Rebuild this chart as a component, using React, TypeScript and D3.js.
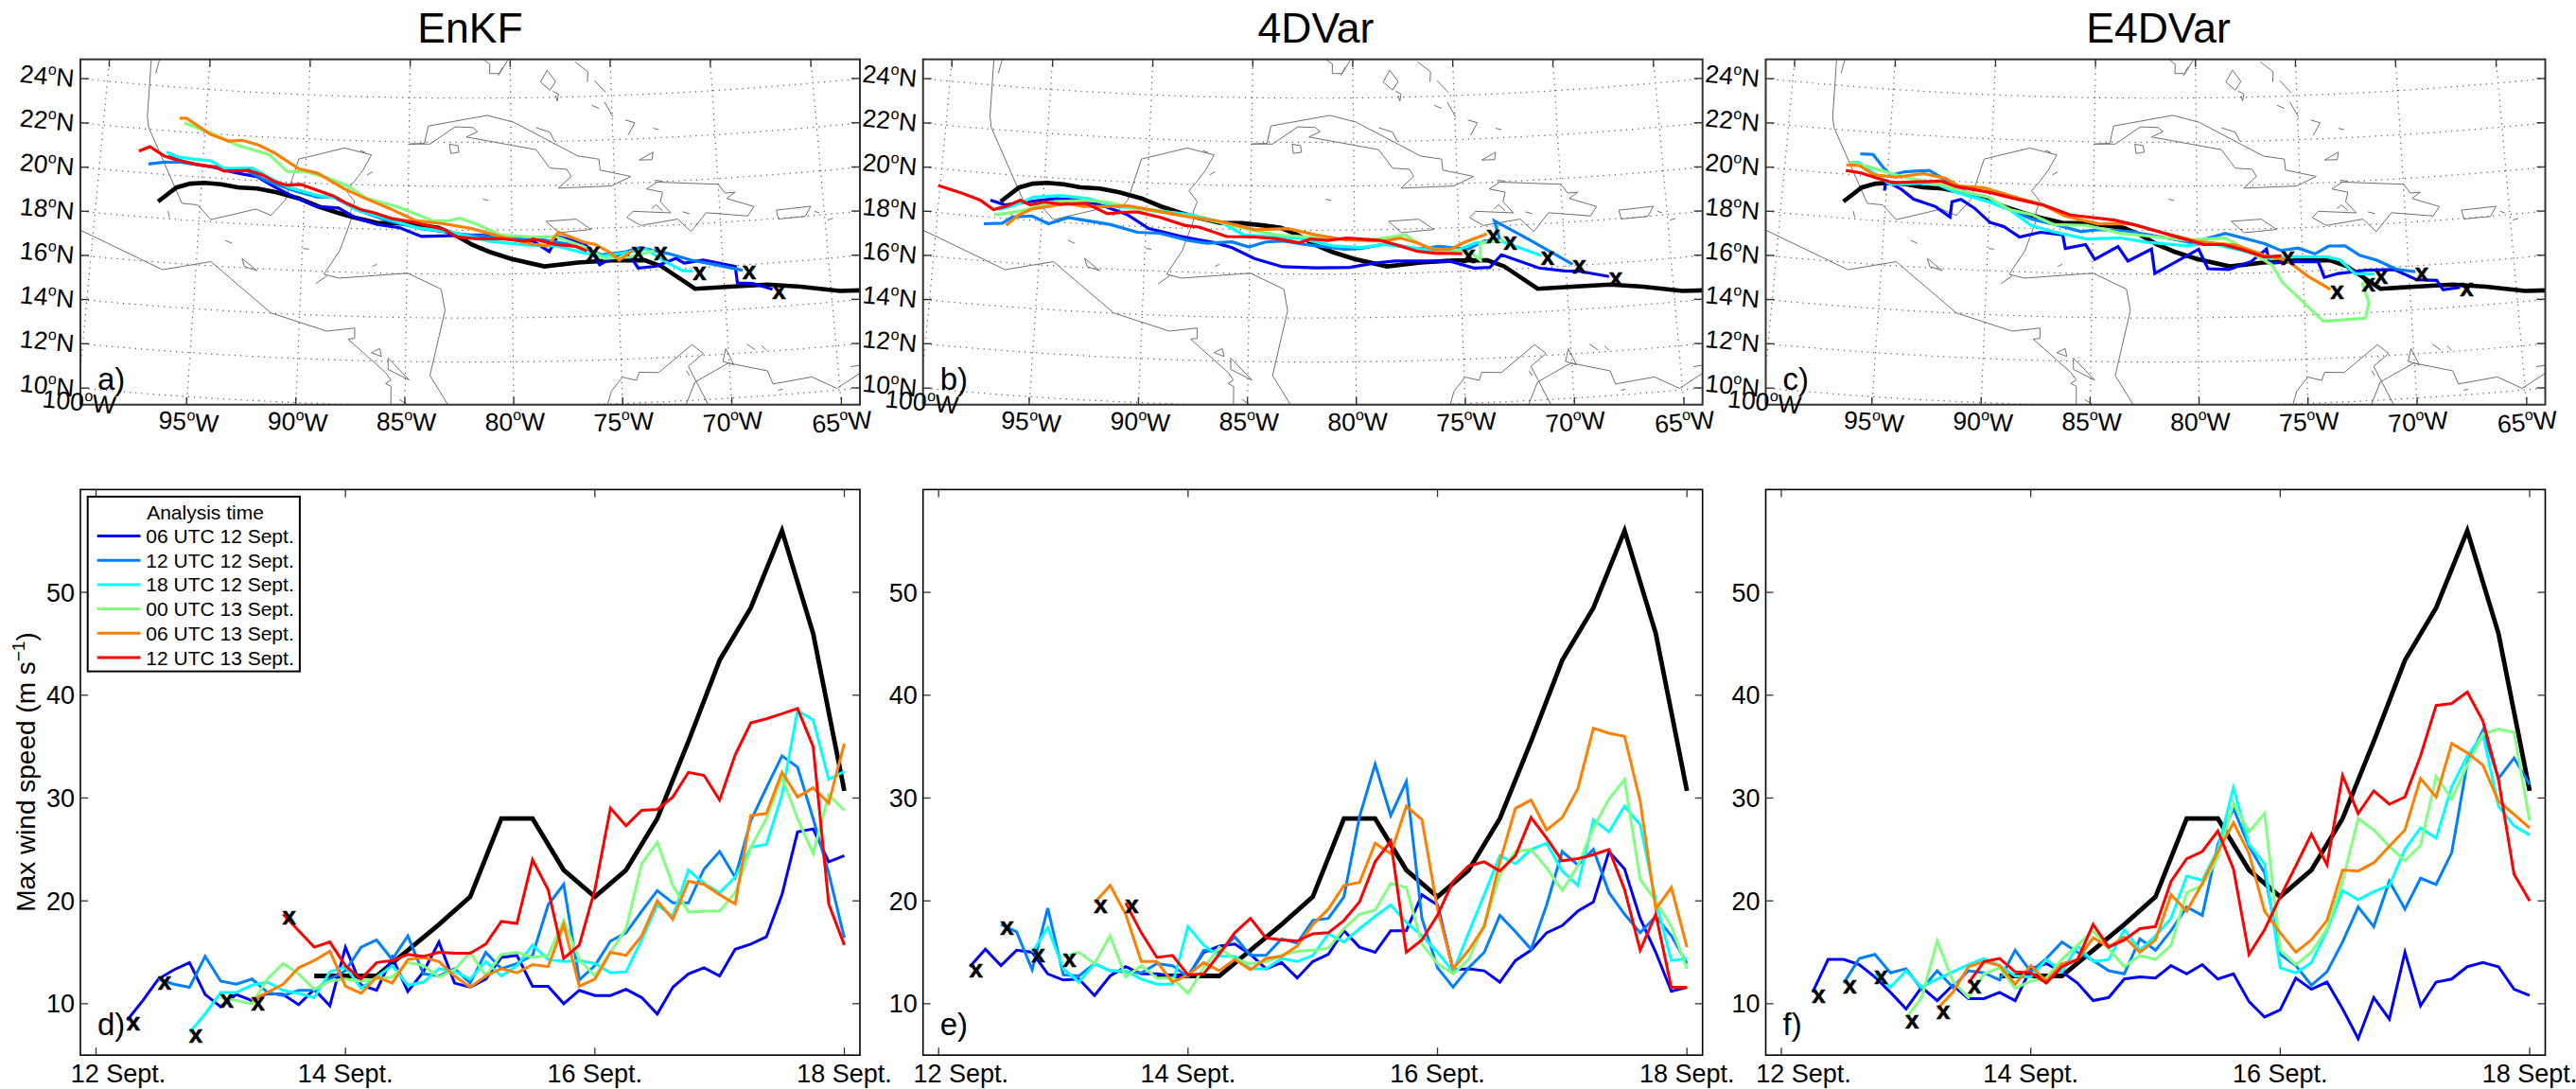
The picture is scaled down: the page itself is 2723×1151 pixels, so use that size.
import React from "react";
import * as d3 from "d3";

const analysisLabels = ["06 UTC 12 Sept.", "12 UTC 12 Sept.", "18 UTC 12 Sept.", "00 UTC 13 Sept.", "06 UTC 13 Sept.", "12 UTC 13 Sept."];
const analysisHours = [6, 12, 18, 24, 30, 36];
const seriesColors = ["#0000ff", "#0080ff", "#00ffff", "#80ff80", "#ff8000", "#ff0000"];
const latTicks = [24, 22, 20, 18, 16, 14, 12, 10];
const lonTicks = [-100, -95, -90, -85, -80, -75, -70, -65];
const windTicks = [10, 20, 30, 40, 50];
const dayTicks = [0, 48, 96, 144];
const dayLabels = ["12 Sept.", "14 Sept.", "16 Sept.", "18 Sept."];

// best track, west to east
const bestTrack = [[-97.03,18.75],[-96.2,19.45],[-95.55,19.67],[-94.87,19.75],[-94.06,19.74],[-93.25,19.64],[-92.3,19.64],[-91.35,19.51],[-90.27,19.28],[-89.31,18.95],[-88.36,18.69],[-87.55,18.5],[-86.47,18.29],[-85.4,18.29],[-84.33,18.2],[-83.52,18.1],[-82.72,17.78],[-81.92,17.35],[-81.11,17.02],[-80.06,16.69],[-78.48,16.32],[-76.88,16.46],[-75.29,16.51],[-73.7,16.46],[-72.92,16.15],[-71.39,15.05],[-69.55,15.05],[-67.97,15.03],[-66.42,14.82],[-64.6,14.47],[-63.57,14.41]];

// EnKF tracks, west to east, the last point is the analysis position
const enkfBlue = [[-96.71,20.82],[-95.82,20.62],[-94.49,20.49],[-93.42,20.3],[-92.35,20.18],[-91.55,19.79],[-90.48,19.33],[-89.41,18.95],[-88.34,18.91],[-87.53,18.5],[-86.47,18.21],[-85.4,18.09],[-84.33,17.7],[-82.99,17.75],[-81.65,17.78],[-80.05,17.7],[-78.98,17.47],[-78.23,16.99],[-77.83,17.67],[-76.55,17.32],[-76.17,16.91],[-75.85,16.33],[-75.18,16.66],[-74.65,16.86],[-74.27,16.49],[-74.03,16.12],[-73.2,16.16],[-72.21,16.48],[-71.84,16.24],[-70.93,16.33],[-69.43,15.96],[-69.38,15.2],[-68.66,15.13],[-67.75,14.8]];
const enkfLight = [[-97.64,20.42],[-96.89,20.56],[-96.09,20.61],[-95.02,20.53],[-93.95,20.46],[-92.88,20.44],[-91.81,19.99],[-90.48,19.62],[-89.41,19.38],[-88.6,19.4],[-87.27,18.8],[-85.93,18.39],[-84.33,18.06],[-82.45,17.83],[-80.58,17.64],[-78.98,17.61],[-76.84,17.22],[-75.77,16.78],[-74.7,16.86],[-73.9,17.05],[-72.56,16.71],[-71.49,16.36],[-69.09,15.76]];
const enkfCyan = [[-96.81,21.02],[-96.22,20.84],[-95.56,20.8],[-94.62,20.77],[-93.95,20.46],[-92.61,20.56],[-91.55,20.08],[-90.74,19.75],[-89.41,19.45],[-88.34,19.34],[-87.53,18.86],[-85.93,18.46],[-84.59,18.1],[-82.99,17.93],[-81.12,17.5],[-79.25,17.3],[-77.91,17.24],[-76.57,16.89],[-75.64,16.72],[-74.43,16.85],[-73.66,16.97],[-72.61,16.28],[-71.92,15.9],[-71.44,15.86]];
const enkfGreen = [[-96.04,22.4],[-94.75,22.05],[-93.42,21.56],[-91.81,21.21],[-90.88,20.47],[-89.94,20.5],[-88.87,20.26],[-87.94,19.93],[-87,19.38],[-85.53,19.05],[-83.79,18.42],[-82.99,18.43],[-82.51,18.55],[-81.65,18.26],[-80.58,17.78],[-78.98,17.66],[-77.91,17.67],[-77.11,17.37],[-76.3,17.06],[-75.64,16.61],[-74.43,16.63],[-73.23,16.88]];
const enkfOrange = [[-96.3,22.6],[-95.96,22.63],[-94.75,21.98],[-93.82,21.72],[-93.15,21.79],[-92.35,21.62],[-91.55,21.3],[-90.34,20.63],[-89.41,20.46],[-88.07,19.78],[-87.27,19.47],[-85.93,18.97],[-84.59,18.41],[-83.26,18.29],[-81.92,18.07],[-80.58,17.71],[-78.98,17.33],[-78.31,17.25],[-77.78,17.86],[-76.57,17.38],[-76.04,17.27],[-75.37,16.89],[-74.91,16.51],[-74.3,16.92]];
const enkfRed = [[-98.15,20.97],[-97.64,21.21],[-96.89,20.83],[-96.36,20.72],[-95.29,20.56],[-94.35,20.5],[-93.95,20.34],[-92.75,20.44],[-92.08,20.27],[-91.41,19.97],[-90.88,19.86],[-90.21,19.92],[-89.54,19.73],[-88.6,19.45],[-87.94,19.13],[-87.27,18.87],[-86.6,18.74],[-85.8,18.5],[-84.86,18.37],[-84.06,18.2],[-83.26,18.03],[-82.59,17.68],[-81.65,17.61],[-80.58,17.61],[-79.38,17.48],[-78.98,17.57],[-77.91,17.31],[-76.97,17.2],[-76.44,16.99]];

// 4DVar tracks
const varBlue = [[-97.53,18.78],[-96.81,18.61],[-95.74,18.83],[-94.41,19.06],[-93.07,19.06],[-92,18.83],[-90.93,18.52],[-89.86,17.92],[-88.26,17.61],[-86.65,17.37],[-85.85,17.17],[-84.78,16.69],[-83.44,16.33],[-81.84,16.28],[-80.24,16.3],[-79.17,16.47],[-78.1,16.56],[-76.22,16.51],[-75.42,16.46],[-74.35,16.13],[-73.6,16.13],[-73.02,16.68],[-71.28,15.99],[-70.07,15.79],[-69.41,15.74],[-67.99,15.4]];
const varLight = [[-97.75,17.68],[-96.87,17.77],[-96.41,18.09],[-95.48,18.2],[-94.67,17.9],[-93.74,18.24],[-92.8,18.14],[-91.73,18.03],[-90.4,17.73],[-89.33,17.73],[-87.99,17.45],[-87.05,17.34],[-85.85,17.43],[-85.05,17.21],[-84.25,17.45],[-83.44,17.5],[-82.37,17.35],[-80.5,17.13],[-79.7,17.15],[-78.36,17.37],[-77.03,17.08],[-75.96,17.17],[-74.62,17],[-73.82,17.34],[-73.07,17.37],[-73.28,18.24],[-71.68,17.31],[-69.67,16.07]];
const varCyan = [[-97.13,18.37],[-96.28,18.65],[-95.48,19.06],[-94.14,19.22],[-92.8,19.15],[-91.47,18.86],[-89.86,18.78],[-87.99,18.63],[-86.39,18.31],[-85.32,17.76],[-83.98,17.7],[-82.64,17.64],[-81.04,17.28],[-79.7,17.2],[-78.63,17.32],[-77.29,17.15],[-76.22,16.98],[-75.16,16.95],[-74.22,17.28],[-73.02,17.3],[-71.14,16.56]];
const varGreen = [[-97.29,18.14],[-96.81,18.21],[-95.74,18.47],[-94.41,18.92],[-93.07,19.06],[-92,19.05],[-90.93,18.88],[-89.59,18.72],[-87.72,18.52],[-86.12,18.25],[-85.05,18],[-83.71,17.78],[-81.57,17.64],[-80.24,17.57],[-78.9,17.58],[-77.56,17.74],[-77.03,17.37],[-76.22,17.05],[-75.16,16.99],[-74.49,16.85],[-74.03,16.48],[-74.01,17.27],[-72.88,17.34]];
const varOrange = [[-96.68,17.69],[-96.14,18.19],[-95.48,18.53],[-94.67,18.69],[-93.87,18.88],[-93.07,18.78],[-91.87,18.84],[-90.93,18.92],[-89.59,18.75],[-87.99,18.52],[-86.65,18.38],[-85.58,18.18],[-84.78,18],[-83.18,18.07],[-81.84,17.78],[-80.5,17.56],[-78.63,17.47],[-77.83,17.6],[-77.03,17.37],[-76.22,17.02],[-75.42,17.04],[-74.75,17.32],[-73.68,17.66]];
const varRed = [[-100.1,19.24],[-98.95,18.99],[-98.02,18.74],[-97.35,18.36],[-96.68,18.58],[-96.09,18.88],[-95.61,18.7],[-94.94,18.88],[-94.14,18.82],[-92.94,18.93],[-91.87,18.51],[-91.06,18.62],[-90.4,18.65],[-89.33,18.45],[-88.12,18.12],[-87.45,18.07],[-86.12,17.67],[-84.78,17.67],[-83.71,17.6],[-82.64,17.43],[-82.11,17.6],[-81.3,17.53],[-80.37,17.63],[-78.76,17.51],[-77.96,17.27],[-77.03,16.98],[-76.22,16.87],[-74.89,16.8]];

// E4DVar tracks
const hybridBlue = [[-95.1,19.38],[-95.05,19.81],[-94.3,19.5],[-93.66,19.08],[-92.59,18.8],[-91.87,18.36],[-91.81,19.06],[-91.39,19.19],[-90.72,18.82],[-89.94,18.2],[-89.27,18.04],[-88.5,17.58],[-87.51,17.83],[-86.44,17.74],[-86.3,17.12],[-85.34,17.32],[-84.89,16.65],[-83.79,17.25],[-83.31,16.59],[-82.19,17.14],[-82.03,16.03],[-79.94,17.12],[-79.51,16.23],[-78.52,16.18],[-77.45,16.52],[-76.71,17.07],[-76.57,16.42],[-75.61,16.46],[-74.27,16.42],[-74.01,15.69],[-73.34,15.84],[-72.03,15.93],[-70.69,15.89],[-69.65,15.36],[-68.71,15.27],[-68.44,14.82],[-67.64,14.88]];
const hybridLight = [[-96.39,20.97],[-95.77,20.99],[-95.24,20.44],[-94.83,20.11],[-94.17,20.3],[-92.99,20.43],[-92.19,20.04],[-90.88,19.39],[-89.54,19.01],[-87.96,18.42],[-86.63,18.16],[-85.56,17.9],[-84.75,18.01],[-83.18,17.93],[-81.84,17.71],[-80.26,17.42],[-78.66,17.83],[-76.79,17.32],[-76.01,16.98],[-75.21,17.07],[-74.41,16.78],[-73.74,17.11],[-72.96,17.08],[-72.29,16.62],[-71.49,16.36],[-70.56,15.89],[-69.7,15.73]];
const hybridCyan = [[-96.89,20.55],[-96.44,20.58],[-95.77,20.2],[-94.83,19.68],[-92.72,19.87],[-91.65,19.5],[-90.07,19.14],[-89.03,18.82],[-87.96,18.13],[-86.89,17.87],[-85.29,17.57],[-83.68,17.64],[-82.37,17.45],[-80.5,17.28],[-79.46,17.41],[-77.86,17.02],[-76.52,16.63],[-75.48,16.68],[-73.87,16.62],[-73.23,16.45],[-72.56,15.8],[-71.63,15.73]];
const hybridGreen = [[-96.84,20.55],[-96.17,20.46],[-95.1,20.24],[-94.3,20.07],[-92.72,19.87],[-91.14,19.52],[-90.07,19.35],[-89.03,18.82],[-87.96,18.63],[-86.89,18.2],[-85.29,18.19],[-83.71,17.86],[-82.11,17.71],[-80.53,17.54],[-78.66,17.61],[-77.59,17.02],[-76.47,16.35],[-76.01,15.54],[-74.14,13.69],[-72.16,13.75],[-71.97,14.45],[-72.24,15.4]];
const hybridOrange = [[-97.03,20.42],[-96.39,20.44],[-95.64,20.06],[-94.57,20.03],[-93.26,20.27],[-92.19,20.11],[-91.52,19.79],[-90.34,19.77],[-88.5,19.33],[-87.43,19.08],[-86.36,18.6],[-84.75,18.27],[-83.18,18.29],[-81.57,17.86],[-80,17.48],[-78.12,17.27],[-76.79,16.78],[-75.74,16.53],[-74.81,15.79],[-73.74,15.13]];
const hybridRed = [[-97.03,20.17],[-96.3,20.11],[-95.5,19.93],[-94.7,19.77],[-93.5,19.88],[-92.4,19.97],[-91.65,19.76],[-90.07,19.57],[-88.76,19.32],[-87.43,19.08],[-86.09,18.65],[-83.98,18.45],[-82.91,18.22],[-81.3,17.78],[-79.73,17.34],[-78.79,17.32],[-77.86,17.07],[-76.81,16.71],[-76.01,16.74]];

// coastlines
const coastMexico = [[-97.92,25.19],[-97.88,22.58],[-97.78,22.09],[-95.88,18.75],[-95.13,18.73],[-94.44,18.1],[-92.31,18.7],[-91.57,18.45],[-90.93,19.17],[-90.35,21.07],[-88.14,21.65],[-86.82,21.37],[-87.21,20.67],[-87.6,20.16],[-87.99,19.71],[-87.57,19.22],[-87.75,18.78],[-87.73,18.35],[-88.22,16.97],[-88.93,15.87],[-88.2,15.72],[-84.96,16.02],[-83.37,15.31],[-83.18,14.34],[-83.86,11.38],[-83,10.03]];
const coastPacific = [[-101,17.4],[-100.69,17.17],[-96.57,15.67],[-94.31,16.19],[-91.34,14.01],[-88.7,13.29],[-87.4,13.47],[-87.39,13],[-87.7,12.96],[-85.92,11.49],[-85.66,11.15],[-85.91,10.99],[-85.65,10.86],[-85.64,10]];
const coastColombia = [[-75.7,9.95],[-75.5,10.56],[-74.96,11.19],[-74.32,11.02],[-74.18,11.38],[-73.28,11.33],[-71.67,12.52],[-71.17,12.09],[-71.9,11.55],[-71.05,9.71]];
const coastVenezuela = [[-72.12,9.77],[-71.63,10.82],[-70.04,11.59],[-68.26,11.12],[-68.05,10.51],[-66.24,10.69],[-65.14,10.08],[-63.95,10.7]];
const closedIslands = [
  [[-84.98,21.9],[-84.24,21.94],[-84.06,22.73],[-81.15,23.22],[-79.86,22.9],[-76.74,21.31],[-75.72,21.14],[-75.68,20.64],[-74.2,20.3],[-75.16,19.9],[-77.73,19.87],[-77.1,20.39],[-77.3,20.72],[-78.12,20.79],[-78.78,21.64],[-82.19,22.24],[-81.64,22.48],[-81.86,22.67],[-82.74,22.7],[-83.97,21.91]],
  [[-73.47,19.7],[-72.94,19.99],[-69.99,19.74],[-69.69,19.32],[-69.21,19.33],[-69.63,19.07],[-68.34,18.62],[-68.67,18.21],[-70.66,18.48],[-71.43,17.66],[-72.04,18.26],[-73.82,18.05],[-74.47,18.44],[-74.16,18.71],[-72.35,18.56],[-72.83,19.09],[-72.7,19.52]],
  [[-78.36,18.37],[-76.91,18.44],[-76.2,17.95],[-77.75,17.84]],
  [[-67.29,18.38],[-65.62,18.43],[-65.93,17.99],[-67.21,17.97]],
  [[-78.16,25.23],[-77.75,24.71],[-78.04,24.33],[-78.5,24.7]],
  [[-73.07,21.36],[-73.76,21.03],[-73.14,21.02]],
  [[-83.01,21.91],[-82.6,21.85],[-82.55,21.55],[-82.95,21.49]],
  [[-92.84,16.42],[-92.1,15.9],[-92.71,16.06]],
  [[-70.12,12.25],[-69.79,11.5],[-70.29,11.68]],
  [[-86.59,12.37],[-86.21,12.57],[-86.12,12.21]],
  [[-85.81,12.14],[-84.81,11.16],[-85.8,11.63]],
];
const openIslets = [
  [[-77.9,24.28],[-77.62,24.14],[-77.69,23.82],[-77.76,24.07]],
  [[-76.76,25.58],[-76.13,25.11],[-76.17,24.65]],
  [[-75.81,24.7],[-75.28,24.15]],
  [[-75.99,23.59],[-75.63,23.44]],
  [[-75.35,23.72],[-74.96,23.03]],
  [[-74.36,22.87],[-73.9,22.73],[-74.26,22.17]],
  [[-73.01,22.44],[-72.74,22.37]],
  [[-78.76,22.64],[-78.08,22.42],[-77.87,22.01]],
  [[-81.36,25.76],[-81.02,25.54],[-81.03,25.11],[-80.53,25.11],[-80.1,25.74]],
  [[-80.61,25],[-80.38,25.4]],
  [[-73.05,20.08],[-72.67,20.02]],
  [[-81.38,19.41],[-81.11,19.35]],
  [[-65.46,18.19],[-65.24,18.1]],
  [[-64.88,17.74],[-64.62,17.79]],
  [[-93.69,17.2],[-93.36,17.08]],
  [[-89.95,17.01],[-89.69,16.99]],
  [[-96.52,18.35],[-96.43,18.07]],
  [[-97.64,24.55],[-97.5,25.22]],
  [[-87.37,21.55],[-87.1,21.47]],
  [[-87.01,20.46],[-86.75,20.6]],
  [[-86.64,16.29],[-86.43,16.4]],
  [[-89.3,15.43],[-88.79,15.8]],
  [[-73.27,18.79],[-73.05,18.96],[-72.74,18.68]],
  [[-71.78,18.58],[-71.46,18.48]],
  [[-69.13,12.4],[-68.76,12.11]],
  [[-68.44,12.28],[-68.25,12.05]],
  [[-64.41,11],[-63.92,11.03]],
  [[-67.82,10.21],[-67.62,10.24]],
  [[-85.26,10.28],[-84.82,10.01]],
  [[-71.99,11.35],[-71.87,11.12]],
];

// observed maximum wind, every 6 h from 42 h after 00 UTC 12 Sept.
const bestWindStart = 42;
const bestWind = [12.7,12.7,12.7,15.2,17.7,20.4,28,28,23,20.4,23,28,35.5,43.4,48.5,56,46,30.7];

// forecast maximum wind, every 3 h from each analysis time
const enkfWind = [
  [8.4,10.3,12.4,13.3,14,10.9,9.7,10.9,10.3,11,10.9,9.9,11.4,9.8,15.5,11.8,11.3,14.5,11.2,13.1,16,12,11.6,12.4,14.5,14.7,11.7,11.7,10,11.3,10.8,10.8,11.4,10.6,9,11.6,12.9,13.5,12.7,15.3,15.8,16.5,20.6,26.7,27,23.8,24.4],
  [12.4,11.9,11.6,14.6,12.2,11.9,12.4,11.1,10.8,11.3,11.3,12.4,13.2,15.5,16.2,14.3,16.6,12.9,12.7,13.4,12,15,13.4,13.9,14.7,19.6,21.6,12.3,13.7,16.1,16.9,19,21,19.8,19.8,23.1,24.8,22.3,27.8,31,34.1,33,28,22.7,16.4],
  [7.2,9,11.1,11.1,11.8,12.1,11.3,11,10.6,13.1,13.6,11.5,12.6,13.7,11.8,12.1,13.4,13.1,12.4,14.1,12.7,13.7,15.7,14.3,14.1,14.2,13.9,13,13.1,16.2,19.6,18.5,23,21.7,20.8,22.3,25.2,25.5,30.3,38.5,37.6,31.8,32.6],
  [10.6,10.3,10,12.4,13.9,12.9,11.4,12.2,12.4,12.2,12.4,12.6,14,13.7,12.6,13.3,15,12.7,14.8,15,14.5,14.7,18.1,14.3,12.7,15,17.3,23.6,25.7,21.5,18.9,19,19,20.8,25.2,28,32,28,24.6,30.3,28.8],
  [10.3,11.1,11.9,13.5,14.2,15.1,11.7,11,12.6,12,14.3,14.5,14.1,12.7,11.6,12.7,13.4,13,13.8,13.6,17.7,11.7,12.4,15,14.7,16.6,20,18.2,21.9,21.6,20.6,19.7,28.3,28.5,32.5,30.1,31,29.5,35.3],
  [18.7,17.1,15.5,16,13.7,12.4,14,14.2,14.8,14.6,15,14.9,14.9,15.8,18,17.8,24,21.1,14.4,15.7,21.1,29,27.3,28.8,28.9,30.1,32.5,32.2,29.8,34.2,37.3,37.7,38.2,38.7,35,19.7,15.7],
];
const varWind = [
  [13.6,15.3,13.7,15.2,15,12.9,12.3,12.4,10.8,12.7,13.6,12.9,12.9,12.7,12.7,15,15.6,15.8,14.8,13.4,14,12.5,14.1,14.8,17.1,15.5,15,17.1,17.1,20.6,19.6,13.3,13.4,13.2,12.1,14.2,15.2,16.9,17.6,19,19.9,24.8,23.1,18.3,15,11.2,11.6],
  [17.7,17,13.3,19.3,12.8,12.7,13.9,13.2,13.1,13,13.9,13.7,12.6,15.2,15,16.5,14.7,14.7,16.3,15.9,18.1,18.3,20.4,28.2,33.3,28.3,31.6,18.3,13.5,11.6,13.5,15,18.6,17,15.3,19.6,24.8,23.5,25,20.8,18.7,16.9,18.5,16.6,13.9],
  [15,17.4,13.4,12.1,13.9,13.2,13.2,12.4,11.9,11.9,17.5,15.7,14.6,14.6,13.4,13.4,14.4,14.1,14.7,16.8,16,17.3,18.5,19.6,17.9,16.6,15,13.1,16.9,20.6,24.4,23.6,25,25.6,22.9,21.5,27.9,26.7,29.2,27.4,20,14.2,14.4],
  [14.6,15,13.9,16.6,12.6,13.7,12.5,12.5,11,13.5,15.5,14.3,13.9,14.1,14.7,15.1,15.2,15.4,17.3,18.7,19.1,21.7,21.3,15.8,13.9,12.9,14.3,17.7,22.5,24.8,25,23.2,21,23.4,27.1,29.9,31.8,22.1,20,17.5,13.4],
  [19.8,21.5,18.7,14.1,14.1,12.1,12.8,14,13.2,14.3,13.3,14.4,14.6,15.6,17.7,19.2,21.5,21.8,25.6,24.6,29.2,27.9,19.2,13.4,15.2,17.5,23.8,29,29.8,26.9,28.1,30.9,36.8,36.3,36,29.7,19.2,21.3,15.5],
  [19.8,16.9,14.5,14.7,12.8,12.9,14.8,16.9,18.3,16.4,16.2,16.1,16.8,16.9,18.1,19.9,23.8,25.8,15,16.2,18.6,21.9,23.4,23.8,22.9,24.4,28.1,26.1,23.9,24.1,24.5,25,21.1,15.2,18.7,11.6,11.6],
];
const hybridWind = [
  [11.1,14.3,14.3,13.8,12.6,11.1,9.5,11.6,10.3,11.8,10.5,10.5,11.1,10.3,13.4,13.9,13.1,12,10.3,10.6,12.4,12.6,12.5,13.7,12.9,13.8,12.4,12.9,10.2,8.7,9.4,12.5,11.4,12.1,9.5,6.6,10.6,8.5,15,9.8,12.1,12.4,13.6,14,13.6,11.4,10.8],
  [12,14.4,14.8,13,13.4,11.4,13.2,11.6,13.2,13,12.3,15.2,13.1,14.4,16,15,14.2,13.2,12.9,16.3,15.2,17.1,19.4,18.6,25.5,29,25.3,22.7,14.8,13.7,11.8,13.1,16,19.4,17.5,21.9,19.2,22.2,21.6,24.7,33.4,36.6,31.9,33.9,31.3],
  [12.9,11.6,13.2,11.6,12.4,13.1,13.8,14.4,13.7,12.7,12.6,14.3,13.1,15.6,14.1,14.3,17.2,15.2,16.6,18.3,22.4,22,25,31,25.5,23.6,13.5,13,14,17.1,21,20.1,20.9,21.5,25,27.1,26.1,31.1,34.1,36.2,29.2,27.3,26.4],
  [8.6,10.6,16.1,12.2,10.6,12.9,13.5,11.5,12.2,12.5,14.3,15.7,17.1,15.3,13.6,14.7,14.3,15.7,20.8,21.5,24.2,29.5,26.7,28.5,15.2,13.8,15,17.3,21.9,28,26.9,25.3,23.9,25.4,32.1,29.9,33.2,36.2,36.7,36.4,27.8],
  [9.5,11.1,13.6,14.1,13.7,11.9,13.7,12.2,13.9,14.3,16.4,15.5,16.5,15,16.2,20.6,19,21.7,24.8,27.6,24.6,19,16.9,15,16.2,18.1,23,22.9,23.7,25.3,26.9,31.9,30.1,35.3,34.4,33.2,29.7,28.4,27.1],
  [12,14.1,14.4,13.1,13,12,13.6,14.3,17.7,15.5,16.2,17.3,17.5,21.9,24.1,24.8,26.8,23.1,14.8,17.2,20.4,23.4,26.5,23.5,32.2,28.5,30.7,29.4,30.1,34.1,39,39.2,40.3,37.5,31.8,22.6,20],
];

const panelTitles = ["EnKF", "4DVar", "E4DVar"];
const titleCenters = [497, 1391, 2281.5];
const mapTags = ["a)", "b)", "c)"];
const windTags = ["d)", "e)", "f)"];
const panelLefts = [85, 975.7, 1866.5];
const panelWidth = 824;
const mapTop = 62.7;
const mapBottom = 427.7;
const windTop = 517.4;
const windBottom = 1115.2;

const trackSets = [
  [enkfBlue, enkfLight, enkfCyan, enkfGreen, enkfOrange, enkfRed],
  [varBlue, varLight, varCyan, varGreen, varOrange, varRed],
  [hybridBlue, hybridLight, hybridCyan, hybridGreen, hybridOrange, hybridRed],
];
const windSets = [enkfWind, varWind, hybridWind];

const FONT = "'Liberation Sans', Arial, sans-serif";
const CONE = 0.2974;

function Degree({ value, hemi }: { value: number; hemi: string }) {
  return (
    <>
      <tspan>{Math.abs(value)}</tspan>
      <tspan dy={-11} fontSize={16}>o</tspan>
      <tspan dy={11}>{hemi}</tspan>
    </>
  );
}

function XMark({ x, y }: { x: number; y: number }) {
  return (
    <text x={x} y={y + 6.8} textAnchor="middle" fontFamily={FONT} fontWeight="bold" fontSize={26} stroke="#000" strokeWidth={0.5} fill="#000">x</text>
  );
}

function MapPanel({ index }: { index: number }) {
  const left = panelLefts[index];
  const right = left + panelWidth;
  const projection = d3.geoConicConformal()
    .parallels([17.3, 17.3])
    .rotate([82, 0])
    .center([0, 18])
    .scale(1329)
    .translate([left + panelWidth / 2, 243.3]);
  const path = d3.geoPath(projection);
  const line = (coordinates: number[][]) => path({ type: "LineString", coordinates } as any) || "";

  const graticule = d3.geoGraticule().extent([[-106, 8], [-60, 27]]).step([5, 2]).precision(1);

  // where a parallel meets a vertical edge, or a meridian a horizontal one
  const lonSamples = d3.range(-108, -56, 0.1);
  const latSamples = d3.range(4, 30, 0.05);
  const parallelY = (lat: number, edge: number) => {
    const pts = lonSamples.map((lon) => projection([lon, lat]) as number[]);
    return pts[d3.bisector((p: number[]) => p[0]).left(pts, edge)][1];
  };
  const meridianX = (lon: number, edge: number) => {
    const pts = latSamples.map((lat) => projection([lon, lat]) as number[]).reverse();
    return pts[d3.bisector((p: number[]) => p[1]).left(pts, edge)][0];
  };

  const clipId = `map-clip-${index}`;
  return (
    <g>
      <clipPath id={clipId}>
        <rect x={left} y={mapTop} width={panelWidth} height={mapBottom - mapTop} />
      </clipPath>
      <g clipPath={`url(#${clipId})`} fill="none">
        <path d={path(graticule()) || ""} stroke="#555" strokeWidth={1.2} strokeDasharray="1.2 5" />
        {[coastMexico, coastPacific, coastColombia, coastVenezuela, ...openIslets].map((c, i) => (
          <path key={i} d={line(c)} stroke="#707070" strokeWidth={1} />
        ))}
        {closedIslands.map((c, i) => (
          <path key={i} d={line([...c, c[0]])} stroke="#707070" strokeWidth={1} />
        ))}
        <path d={line(bestTrack)} stroke="#000" strokeWidth={4.6} />
        {trackSets[index].map((t, i) => (
          <path key={i} d={line(t)} stroke={seriesColors[i]} strokeWidth={3.2} />
        ))}
      </g>
      {trackSets[index].map((t, i) => {
        const p = projection(t[t.length - 1] as [number, number]) as number[];
        return <XMark key={i} x={p[0] + 7} y={p[1] + 3} />;
      })}
      <rect x={left} y={mapTop} width={panelWidth} height={mapBottom - mapTop} fill="none" stroke="#333" strokeWidth={2} />
      {latTicks.map((lat) => {
        const yL = parallelY(lat, left);
        const yR = parallelY(lat, right);
        return (
          <g key={lat}>
            <line x1={left} x2={left + 9} y1={yL} y2={yL} stroke="#333" strokeWidth={1.4} />
            <line x1={right} x2={right - 9} y1={yR} y2={yR} stroke="#333" strokeWidth={1.4} />
            <text transform={`translate(${left - 7.5},${yL + 9}) rotate(5.4)`} textAnchor="end" fontFamily={FONT} fontSize={26.5} fill="#000">
              <Degree value={lat} hemi="N" />
            </text>
          </g>
        );
      })}
      {lonTicks.map((lon) => {
        const xT = meridianX(lon, mapTop);
        const xB = meridianX(lon, mapBottom);
        const far = lon === -100;
        return (
          <g key={lon}>
            <line x1={xT} x2={xT} y1={mapTop} y2={mapTop + 8} stroke="#333" strokeWidth={1.4} />
            {!far && <line x1={xB} x2={xB} y1={mapBottom} y2={mapBottom - 8} stroke="#333" strokeWidth={1.4} />}
            <text transform={`translate(${xB + 1.5},${far ? 434 : 455}) rotate(${-CONE * (lon + 82)})`} textAnchor="middle" fontFamily={FONT} fontSize={26.5} fill="#000">
              <Degree value={lon} hemi="W" />
            </text>
          </g>
        );
      })}
      <text x={titleCenters[index]} y={45} textAnchor="middle" fontFamily={FONT} fontSize={44.5} fill="#000">{panelTitles[index]}</text>
      <text x={left + 18} y={412} fontFamily={FONT} fontSize={33} fill="#000">{mapTags[index]}</text>
    </g>
  );
}

function WindPanel({ index }: { index: number }) {
  const left = panelLefts[index];
  const right = left + panelWidth;
  const x = d3.scaleLinear().domain([-3, 147]).range([left, right]);
  const y = d3.scaleLinear().domain([5, 60]).range([windBottom, windTop]);
  const line = d3.line<[number, number]>().x((d) => x(d[0])).y((d) => y(d[1]));
  const clipId = `wind-clip-${index}`;
  const bestPoints = bestWind.map((v, i) => [bestWindStart + i * 6, v] as [number, number]);
  return (
    <g>
      <clipPath id={clipId}>
        <rect x={left} y={windTop} width={panelWidth} height={windBottom - windTop} />
      </clipPath>
      <g clipPath={`url(#${clipId})`} fill="none">
        <path d={line(bestPoints) || ""} stroke="#000" strokeWidth={4.8} />
        {windSets[index].map((values, i) => {
          const points = values.map((v, j) => [analysisHours[i] + j * 3, v] as [number, number]);
          return <path key={i} d={line(points) || ""} stroke={seriesColors[i]} strokeWidth={3} />;
        })}
      </g>
      {windSets[index].map((values, i) => (
        <XMark key={i} x={x(analysisHours[i]) + 6.5} y={y(values[0]) + 4} />
      ))}
      <rect x={left} y={windTop} width={panelWidth} height={windBottom - windTop} fill="none" stroke="#000" strokeWidth={1.6} />
      {windTicks.map((t) => (
        <g key={t}>
          <line x1={left} x2={left + 8} y1={y(t)} y2={y(t)} stroke="#333" strokeWidth={1.3} />
          <line x1={right} x2={right - 8} y1={y(t)} y2={y(t)} stroke="#333" strokeWidth={1.3} />
          <text x={left - 6} y={y(t) + 9.5} textAnchor="end" fontFamily={FONT} fontSize={27} fill="#000">{t}</text>
        </g>
      ))}
      {dayTicks.map((t, i) => (
        <g key={t}>
          <line x1={x(t)} x2={x(t)} y1={windBottom} y2={windBottom - 8} stroke="#333" strokeWidth={1.3} />
          <line x1={x(t)} x2={x(t)} y1={windTop} y2={windTop + 8} stroke="#333" strokeWidth={1.3} />
          <text x={x(t) + (i === 0 ? 23.5 : 0)} y={1144} textAnchor="middle" fontFamily={FONT} fontSize={27} fill="#000">{dayLabels[i]}</text>
        </g>
      ))}
      <text x={left + 18} y={1093.6} fontFamily={FONT} fontSize={33} fill="#000">{windTags[index]}</text>
    </g>
  );
}

function Legend() {
  const rowY = d3.scalePoint<number>().domain(d3.range(analysisLabels.length)).range([566.4, 695.1]);
  return (
    <g fontFamily={FONT} fill="#000">
      <rect x={92.7} y={524.9} width={224.2} height={184.7} fill="#fff" stroke="#000" strokeWidth={2} />
      <text x={217} y={549} textAnchor="middle" fontSize={21}>Analysis time</text>
      {analysisLabels.map((label, i) => {
        const yy = rowY(i) as number;
        return (
          <g key={label}>
            <line x1={102.7} x2={148.5} y1={yy} y2={yy} stroke={seriesColors[i]} strokeWidth={3} />
            <text x={154.3} y={yy + 7.5} fontSize={21}>{label}</text>
          </g>
        );
      })}
    </g>
  );
}

export default function App() {
  return (
    <svg width={2723} height={1151} style={{ position: "absolute", left: 0, top: 0, display: "block", background: "#fff" }}>
      {panelTitles.map((_, i) => <MapPanel key={i} index={i} />)}
      {panelTitles.map((_, i) => <WindPanel key={i} index={i} />)}
      <Legend />
      <text transform="translate(37,816) rotate(-90)" textAnchor="middle" fontFamily={FONT} fontSize={28} fill="#000">
        Max wind speed (m s<tspan dy={-11} fontSize={19}>−1</tspan><tspan dy={11}>)</tspan>
      </text>
    </svg>
  );
}
